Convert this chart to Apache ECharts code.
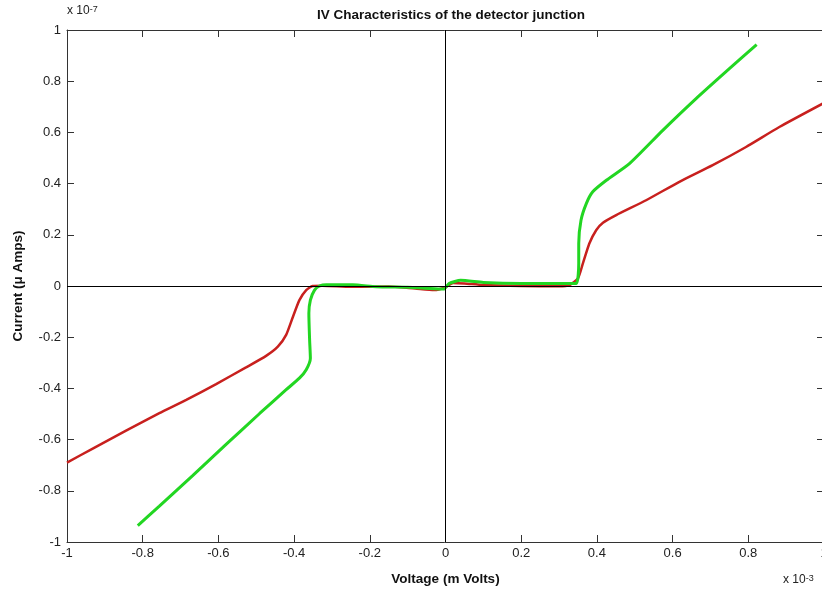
<!DOCTYPE html>
<html>
<head>
<meta charset="utf-8">
<script src="https://cdn.jsdelivr.net/npm/echarts@6/dist/echarts.min.js"></script>
<style>html,body{margin:0;padding:0;background:#fff}#c{width:822px;height:593px}</style>
</head>
<body>
<div id="c"></div>
<script>
// Voltage in units of 1e-3 (m Volts axis), current in units of 1e-7
const redV = [-1.0, -0.932, -0.844, -0.756, -0.685, -0.606, -0.527, -0.474, -0.443, -0.421, -0.403, -0.386, -0.368, -0.351, -0.325, -0.25, -0.15, -0.08, -0.03, 0.0, 0.02, 0.05, 0.1, 0.2, 0.3, 0.328, 0.350, 0.363, 0.380, 0.398, 0.416, 0.451, 0.530, 0.618, 0.706, 0.794, 0.882, 1.0];
const redI = [-0.69, -0.635, -0.565, -0.497, -0.445, -0.383, -0.318, -0.273, -0.237, -0.191, -0.120, -0.055, -0.016, 0.0, 0.001, -0.003, -0.002, -0.01, -0.016, -0.005, 0.012, 0.01, 0.004, 0.0, -0.001, 0.004, 0.030, 0.088, 0.166, 0.218, 0.247, 0.277, 0.335, 0.407, 0.472, 0.543, 0.621, 0.715];
const greenV = [-0.813, -0.756, -0.668, -0.579, -0.491, -0.421, -0.386, -0.368, -0.357, -0.359, -0.361, -0.357, -0.346, -0.333, -0.315, -0.245, -0.183, -0.1, -0.04, -0.005, 0.01, 0.04, 0.1, 0.2, 0.3, 0.345, 0.352, 0.352, 0.358, 0.372, 0.389, 0.425, 0.486, 0.574, 0.662, 0.750, 0.822];
const greenI = [-0.936, -0.860, -0.741, -0.618, -0.498, -0.405, -0.360, -0.327, -0.282, -0.211, -0.106, -0.055, -0.016, 0.0, 0.005, 0.005, -0.003, -0.005, -0.01, -0.012, 0.01, 0.022, 0.014, 0.01, 0.01, 0.01, 0.088, 0.166, 0.257, 0.322, 0.368, 0.413, 0.478, 0.608, 0.732, 0.849, 0.943];

const titleText = 'IV Characteristics of the detector junction';
const xName = 'Voltage (m Volts)';
const yName = 'Current (\u03bc Amps)';

const zip = (a, b) => a.map((v, i) => [v, b[i]]);
const FONT = '"Liberation Sans", Arial, sans-serif';
const chart = echarts.init(document.getElementById('c'));
const axLine = { show: true, onZero: false, lineStyle: { color: '#333', width: 1 } };
const tickIn = { show: true, inside: true, length: 7, lineStyle: { color: '#333' } };

chart.setOption({
  animation: false,
  backgroundColor: '#fff',
  title: {
    text: titleText, left: 446, top: 3, textAlign: 'center',
    textStyle: { fontFamily: FONT, fontSize: 13.5, fontWeight: 'bold', color: '#111' }
  },
  grid: { left: 67, top: 30, width: 757, height: 512, outerBoundsMode: 'none', containLabel: false },
  xAxis: [{
    type: 'value', min: -1, max: 1, interval: 0.2,
    name: xName, nameLocation: 'middle', nameGap: 30,
    nameTextStyle: { fontFamily: FONT, fontSize: 13.5, fontWeight: 'bold', color: '#111' },
    axisLine: axLine, axisTick: tickIn, splitLine: { show: false },
    axisLabel: { fontFamily: FONT, fontSize: 13, color: '#222', margin: 5, showMinLabel: true, showMaxLabel: true }
  }, {
    type: 'value', min: -1, max: 1, interval: 0.2, position: 'top',
    axisLine: axLine, axisTick: tickIn, axisLabel: { show: false }, splitLine: { show: false }
  }],
  yAxis: [{
    type: 'value', min: -1, max: 1, interval: 0.2,
    name: yName, nameLocation: 'middle', nameGap: 42, nameRotate: 90,
    nameTextStyle: { fontFamily: FONT, fontSize: 13.5, fontWeight: 'bold', color: '#111' },
    axisLine: axLine, axisTick: tickIn, splitLine: { show: false },
    axisLabel: { fontFamily: FONT, fontSize: 13, color: '#222', margin: 6 }
  }, {
    type: 'value', min: -1, max: 1, interval: 0.2, position: 'right',
    axisLine: axLine, axisTick: tickIn, axisLabel: { show: false }, splitLine: { show: false }
  }],
  series: [{
    type: 'line', name: 'red', data: zip(redV, redI), showSymbol: false, symbol: 'none',
    smooth: 0.2, lineStyle: { color: '#c8201e', width: 2.5 },
    markLine: {
      silent: true, symbol: 'none', label: { show: false },
      lineStyle: { color: '#000', width: 1, type: 'solid' },
      data: [{ xAxis: 0 }, { yAxis: 0 }]
    }
  }, {
    type: 'line', name: 'green', data: zip(greenV, greenI), showSymbol: false, symbol: 'none',
    smooth: 0.2, lineStyle: { color: '#22d622', width: 3 }
  }],
  graphic: [{
    type: 'text', left: 67, top: 5,
    style: {
      text: '{b|x 10}{s|-7}', fill: '#222',
      rich: { b: { fontFamily: FONT, fontSize: 12, verticalAlign: 'bottom' }, s: { fontFamily: FONT, fontSize: 9, verticalAlign: 'top' } }
    }
  }, {
    type: 'text', left: 783, top: 574,
    style: {
      text: '{b|x 10}{s|-3}', fill: '#222',
      rich: { b: { fontFamily: FONT, fontSize: 12, verticalAlign: 'bottom' }, s: { fontFamily: FONT, fontSize: 9, verticalAlign: 'top' } }
    }
  }]
});
</script>
</body>
</html>
